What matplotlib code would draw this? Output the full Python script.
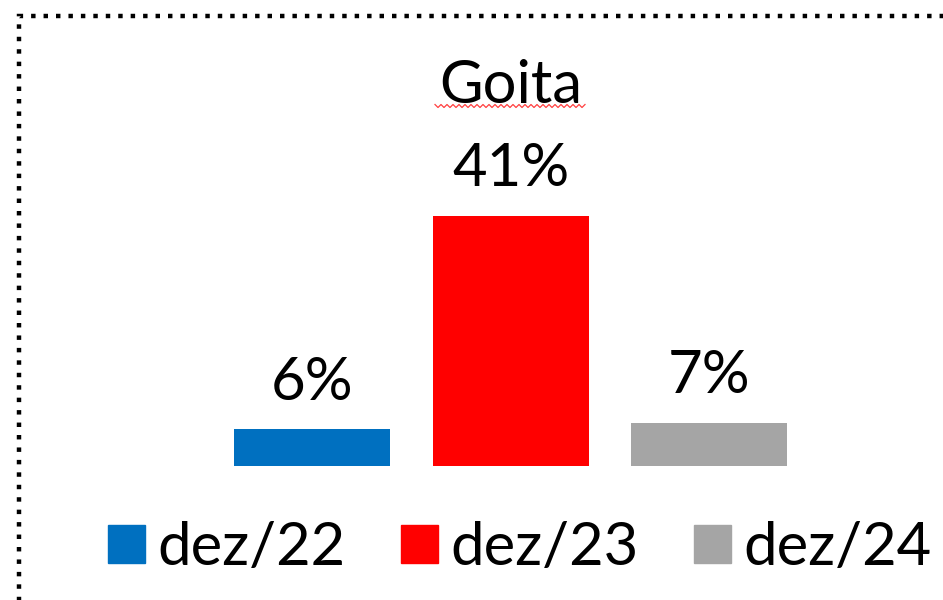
import matplotlib
matplotlib.use("Agg")
import matplotlib.pyplot as plt
import matplotlib.patches as mpatches
from matplotlib.lines import Line2D
import numpy as np

categories = ["dez/22", "dez/23", "dez/24"]
values = [6, 41, 7]
labels = ["6%", "41%", "7%"]
colors = ["#0070C0", "#FF0000", "#A5A5A5"]
title = "Goita"

FONT = "Lato"
FS = 43

fig = plt.figure(figsize=(9.43, 6.0), dpi=100)
fig.patch.set_facecolor("white")

ax = fig.add_axes([213/943, (600-466)/600, 595.5/943, 250/600])
x = np.arange(len(categories))
bars = ax.bar(x, values, width=0.786, color=colors)
ax.set_xlim(-0.5, 2.5)
ax.set_ylim(0, 41)
ax.axis("off")

for xi, v, lab in zip(x, values, labels):
    ax.annotate(lab, (xi, v), xytext=(0, 21.5), textcoords="offset points",
                ha="center", va="baseline", fontsize=FS, family=FONT, color="black")

# title
fig.text(511/943, 1 - 103/600, title, ha="center", va="baseline",
         fontsize=FS, family=FONT, color="black")
# spell-check wavy underline
xs = np.arange(435, 588, 3)
ys = np.where(np.arange(len(xs)) % 2 == 0, 104.5, 107.5)
fig.add_artist(Line2D(xs/943, 1 - ys/600, transform=fig.transFigure,
                      color="#FF4040", lw=0.9))

# dotted border (left and top visible)
fig.add_artist(mpatches.Rectangle((19/943, -0.1), 1.2, 1 - 16/600 + 0.1,
                                  transform=fig.transFigure, fill=False,
                                  edgecolor="black", lw=3.2, linestyle=(0, (1, 1.8))))

handles = [mpatches.Patch(color=c, label=l) for c, l in zip(colors, categories)]
leg = fig.legend(handles=handles, loc="center", bbox_to_anchor=(520/943, 1 - 548/600),
                 ncol=3, frameon=False, prop={"family": FONT, "size": FS},
                 handlelength=0.614, handleheight=0.614, handletextpad=0.22,
                 columnspacing=0.92, borderaxespad=0, borderpad=0)

fig.savefig("out.png", dpi=100, facecolor="white")
